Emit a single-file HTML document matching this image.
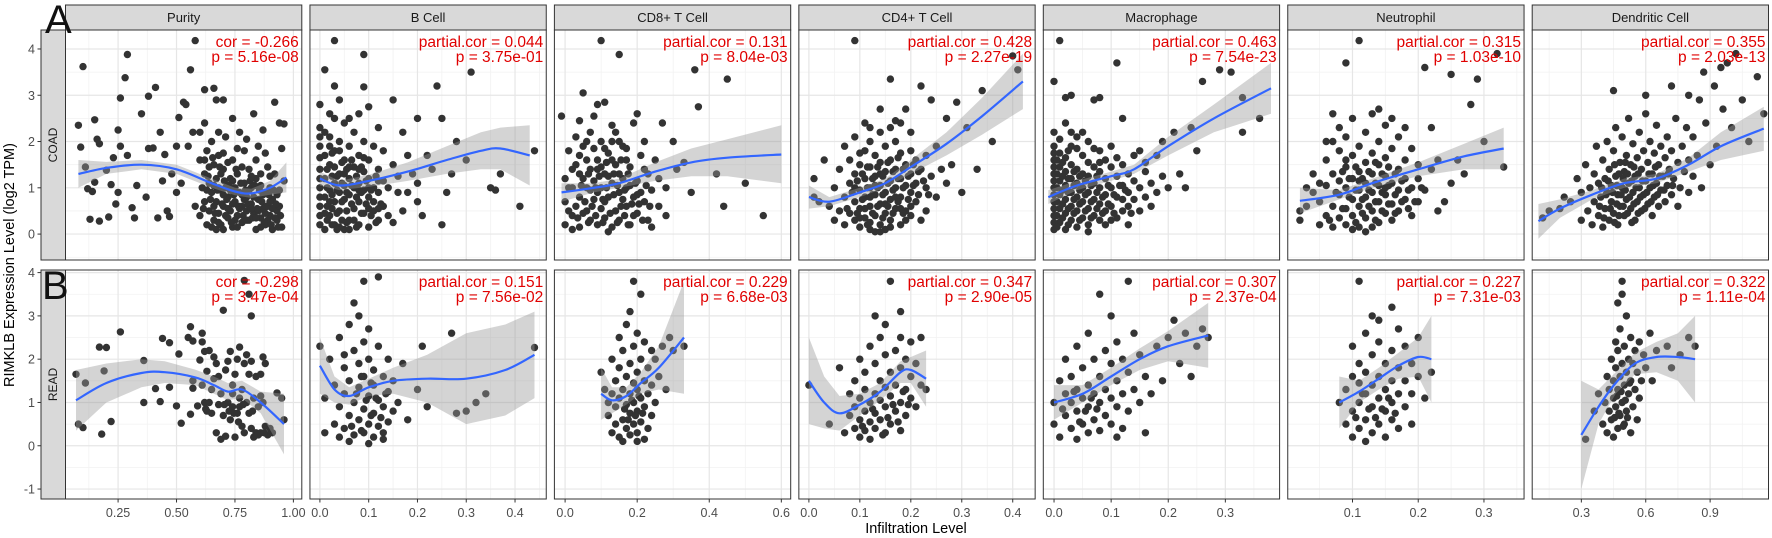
<!DOCTYPE html>
<html><head><meta charset="utf-8"><style>
html,body{margin:0;padding:0;background:#fff;}
svg{display:block;font-family:"Liberation Sans",sans-serif;}
</style></head><body>
<svg id="chart" width="1772" height="538" viewBox="0 0 1772 538" xmlns="http://www.w3.org/2000/svg"></svg>
<script>
// ---------- data ----------
const cellTypes=["Purity","B Cell","CD8+ T Cell","CD4+ T Cell","Macrophage","Neutrophil","Dendritic Cell"];
const cancers=["COAD","READ"];
const coadCorLabels=["cor = -0.266","partial.cor = 0.044","partial.cor = 0.131","partial.cor = 0.428","partial.cor = 0.463","partial.cor = 0.315","partial.cor = 0.355"];
const coadPLabels=["p = 5.16e-08","p = 3.75e-01","p = 8.04e-03","p = 2.27e-19","p = 7.54e-23","p = 1.03e-10","p = 2.03e-13"];
const readCorLabels=["cor = -0.298","partial.cor = 0.151","partial.cor = 0.229","partial.cor = 0.347","partial.cor = 0.307","partial.cor = 0.227","partial.cor = 0.322"];
const readPLabels=["p = 3.47e-04","p = 7.56e-02","p = 6.68e-03","p = 2.90e-05","p = 2.37e-04","p = 7.31e-03","p = 1.11e-04"];
const xTickLabels=[["0.25","0.50","0.75","1.00"],["0.0","0.1","0.2","0.3","0.4"],["0.0","0.2","0.4","0.6"],["0.0","0.1","0.2","0.3","0.4"],["0.0","0.1","0.2","0.3"],["0.1","0.2","0.3"],["0.3","0.6","0.9"]];
const xDomains=[[0.025,1.036],[-0.0204,0.464],[-0.0297,0.626],[-0.0197,0.444],[-0.0188,0.395],[0.0015,0.361],[0.071,1.172]];
const yTicksCoad=[0,1,2,3,4];
const yTicksRead=[-1,0,1,2,3,4];
const yDomainCoad=[-0.56,4.41];
const yDomainRead=[-1.23,4.06];

// points [x,y]
const coadPurity=[[0.08,2.35],[0.09,1.88],[0.1,3.62],[0.12,0.98],[0.11,1.45],[0.13,0.32],[0.14,0.92],[0.15,1.12],[0.15,2.47],[0.16,2.05],[0.17,0.28],[0.17,1.95],[0.2,1.38],[0.21,0.37],[0.22,1.07],[0.23,1.65],[0.24,0.65],[0.25,2.25],[0.25,0.9],[0.26,2.94],[0.26,1.9],[0.28,3.38],[0.29,3.88],[0.29,1.7],[0.31,0.57],[0.32,0.35],[0.33,1.05],[0.35,2.6],[0.37,0.8],[0.38,2.98],[0.38,1.85],[0.4,1.86],[0.41,3.17],[0.42,0.35],[0.43,2.2],[0.44,1.15],[0.45,1.72],[0.46,0.5],[0.47,0.38],[0.48,1.3],[0.5,1.9],[0.5,0.9],[0.51,2.52],[0.52,1.1],[0.53,2.85],[0.54,2.8],[0.55,1.9],[0.56,3.55],[0.57,2.2],[0.58,4.18],[0.58,0.6],[0.6,1.6],[0.62,3.12],[0.62,2.4],[0.66,3.15],[0.67,2.9],[0.67,0.1],[0.68,2.2],[0.7,2.9],[0.6,0.4],[0.61,1.0],[0.62,0.7],[0.62,1.3],[0.63,0.2],[0.63,1.8],[0.64,0.5],[0.64,1.1],[0.65,0.9],[0.65,2.0],[0.66,0.3],[0.66,1.5],[0.67,0.7],[0.67,1.2],[0.68,0.45],[0.68,1.7],[0.69,0.95],[0.69,0.2],[0.7,0.6],[0.7,1.4],[0.71,1.0],[0.71,2.1],[0.72,0.35],[0.72,0.8],[0.73,1.2],[0.73,0.5],[0.74,1.6],[0.74,0.15],[0.75,0.7],[0.75,1.0],[0.76,0.4],[0.76,1.3],[0.77,0.9],[0.77,2.2],[0.78,0.6],[0.78,0.25],[0.79,1.1],[0.79,1.8],[0.8,0.5],[0.8,0.8],[0.81,1.4],[0.81,0.3],[0.82,0.65],[0.82,1.0],[0.83,2.6],[0.83,0.45],[0.84,1.2],[0.84,0.1],[0.85,0.75],[0.85,1.9],[0.86,0.35],[0.86,1.05],[0.87,0.55],[0.87,2.25],[0.88,0.9],[0.88,0.2],[0.89,1.45],[0.89,0.6],[0.9,0.4],[0.9,1.0],[0.91,0.75],[0.91,0.1],[0.92,1.3],[0.92,2.85],[0.93,0.5],[0.93,0.3],[0.94,2.4],[0.95,0.15],[0.95,1.85],[0.96,1.15],[0.96,2.38],[0.74,2.5],[0.8,2.05],[0.68,1.0],[0.7,0.1],[0.65,0.15],[0.6,2.2],[0.62,1.6],[0.72,1.55],[0.76,1.85],[0.84,1.6],[0.88,1.75],[0.63,0.95],[0.66,0.6],[0.69,1.3],[0.71,0.4],[0.73,0.95],[0.75,0.3],[0.77,0.55],[0.79,0.75],[0.81,0.95],[0.83,0.8],[0.85,0.5],[0.87,0.85],[0.89,0.3],[0.91,0.55],[0.93,0.85],[0.94,0.6],[0.64,1.45],[0.7,1.75],[0.74,1.15],[0.78,1.45],[0.82,1.25],[0.86,1.3],[0.9,1.25]];
const coadPurityDense=[[0.615,0.55],[0.635,1.25],[0.645,0.75],[0.655,1.65],[0.665,0.45],[0.675,0.95],[0.685,1.45],[0.695,0.65],[0.705,1.15],[0.715,0.75],[0.725,1.05],[0.735,0.25],[0.745,0.85],[0.755,1.4],[0.765,0.6],[0.775,1.1],[0.785,0.4],[0.795,0.95],[0.805,0.65],[0.815,1.15],[0.825,0.35],[0.835,1.05],[0.845,0.55],[0.855,0.95],[0.865,0.7],[0.875,0.25],[0.885,0.6],[0.895,0.85],[0.905,0.2],[0.915,0.95],[0.925,0.65],[0.935,0.15],[0.945,0.4],[0.72,0.55],[0.76,0.15],[0.8,0.3],[0.84,0.35],[0.88,0.45],[0.92,0.35],[0.68,0.25],[0.86,0.15],[0.78,0.85],[0.82,0.55],[0.74,0.65],[0.7,0.85],[0.66,1.05],[0.9,0.7],[0.94,0.95]];
const coadBCell=[[0.03,4.18],[0.09,3.88],[0.01,3.55],[0.03,3.2],[0.09,3.18],[0.15,2.9],[0.24,3.2],[0.31,3.5],[0.2,2.5],[0.25,2.5],[0.17,2.2],[0.12,2.3],[0.28,2.0],[0.35,1.0],[0.37,1.3],[0.36,0.95],[0.41,0.6],[0.44,1.8],[0.3,1.6],[0.22,1.7],[0.19,1.3],[0.16,0.9],[0.2,0.7],[0.25,0.2],[0.14,0.4],[0.0,0.2],[0.0,0.6],[0.0,1.0],[0.0,1.4],[0.0,1.9],[0.0,2.3],[0.0,2.8],[0.01,0.1],[0.01,0.8],[0.01,1.2],[0.01,1.7],[0.02,0.4],[0.02,0.95],[0.02,1.5],[0.02,2.1],[0.03,0.2],[0.03,0.7],[0.03,1.1],[0.03,1.8],[0.03,2.5],[0.04,0.5],[0.04,0.9],[0.04,1.3],[0.04,2.0],[0.05,0.1],[0.05,0.75],[0.05,1.05],[0.05,1.6],[0.05,2.4],[0.06,0.3],[0.06,0.85],[0.06,1.2],[0.06,1.9],[0.07,0.55],[0.07,1.0],[0.07,1.45],[0.07,2.2],[0.08,0.2],[0.08,0.7],[0.08,1.1],[0.08,1.7],[0.08,2.6],[0.09,0.45],[0.09,0.95],[0.09,1.35],[0.09,2.0],[0.1,0.15],[0.1,0.8],[0.1,1.2],[0.1,1.6],[0.1,2.75],[0.11,0.5],[0.11,1.0],[0.11,1.9],[0.12,0.3],[0.12,0.9],[0.12,1.4],[0.13,0.6],[0.13,1.15],[0.13,1.8],[0.14,1.0],[0.15,0.25],[0.15,1.5],[0.16,1.25],[0.17,0.5],[0.18,1.7],[0.18,0.9],[0.2,1.1],[0.21,0.4],[0.23,1.4],[0.26,0.9],[0.27,1.3],[0.02,2.6],[0.04,2.9],[0.06,2.5],[0.01,0.45],[0.03,1.45],[0.05,1.3],[0.07,0.3],[0.09,1.65],[0.11,0.7],[0.06,0.1],[0.04,0.15],[0.02,0.7],[0.08,0.95],[0.1,1.0],[0.12,1.15]];
const coadBCellDense=[[0.015,0.3],[0.015,0.6],[0.015,1.0],[0.015,1.4],[0.025,0.2],[0.025,0.55],[0.025,0.85],[0.025,1.25],[0.025,1.75],[0.035,0.45],[0.035,0.95],[0.035,1.25],[0.035,0.1],[0.045,0.3],[0.045,0.7],[0.045,1.1],[0.045,1.55],[0.055,0.5],[0.055,0.9],[0.055,1.4],[0.055,0.25],[0.065,0.65],[0.065,1.05],[0.065,1.6],[0.075,0.15],[0.075,0.8],[0.075,1.25],[0.085,0.45],[0.085,0.9],[0.085,1.45],[0.095,0.65],[0.095,1.15],[0.105,0.4],[0.105,0.95],[0.115,0.25],[0.115,1.25],[0.125,0.65],[0.0,0.4],[0.0,0.8],[0.0,1.2],[0.0,1.65],[0.0,2.1],[0.01,2.2],[0.02,1.9],[0.04,1.8],[0.06,1.45],[0.08,1.4],[0.1,0.55],[0.12,0.55]];
const coadCD8=[[0.1,4.18],[0.15,3.88],[0.36,3.55],[0.45,3.35],[0.05,3.05],[0.09,2.8],[0.11,2.85],[0.37,2.75],[-0.01,2.55],[0.04,2.45],[0.08,2.55],[0.13,2.35],[0.2,2.6],[0.27,2.4],[0.22,2.0],[0.3,2.0],[0.33,1.55],[0.42,1.3],[0.5,1.1],[0.44,0.6],[0.35,0.9],[0.28,0.4],[0.55,0.4],[0.26,1.2],[0.31,1.4],[0.0,0.2],[0.0,0.7],[0.0,1.2],[0.01,1.8],[0.02,0.4],[0.02,1.0],[0.03,1.5],[0.03,2.1],[0.04,0.15],[0.04,0.8],[0.05,1.2],[0.05,1.9],[0.06,0.5],[0.06,1.0],[0.07,0.3],[0.07,1.4],[0.07,2.2],[0.08,0.75],[0.08,1.15],[0.09,0.2],[0.09,1.6],[0.1,0.55],[0.1,1.0],[0.1,2.0],[0.11,0.35],[0.11,1.3],[0.12,0.8],[0.12,1.75],[0.13,0.15],[0.13,1.1],[0.14,0.5],[0.14,1.5],[0.14,2.2],[0.15,0.9],[0.15,0.3],[0.16,1.2],[0.16,1.9],[0.17,0.6],[0.17,1.0],[0.18,0.2],[0.18,1.45],[0.19,0.8],[0.19,2.4],[0.2,0.45],[0.2,1.15],[0.21,1.7],[0.22,0.7],[0.23,1.3],[0.23,0.3],[0.24,0.95],[0.25,1.6],[0.26,0.6],[0.28,1.0],[0.03,0.6],[0.05,0.45],[0.06,1.6],[0.08,1.85],[0.09,0.9],[0.11,0.7],[0.12,0.05],[0.13,1.6],[0.15,1.3],[0.17,1.6],[0.19,0.4],[0.21,0.9],[0.22,1.4],[0.24,0.15],[0.16,0.75],[0.12,1.25],[0.1,1.45],[0.18,1.05],[0.2,0.85],[0.07,0.95],[0.04,1.3],[0.02,0.1]];
const coadCD8Dense=[[0.035,0.35],[0.045,1.05],[0.055,0.7],[0.065,1.3],[0.065,0.25],[0.075,0.6],[0.085,1.0],[0.085,0.4],[0.095,1.25],[0.105,0.75],[0.105,0.25],[0.115,1.0],[0.115,1.55],[0.125,0.45],[0.135,0.85],[0.135,1.3],[0.145,0.25],[0.145,1.05],[0.155,0.6],[0.155,1.6],[0.165,0.4],[0.165,0.95],[0.175,1.3],[0.175,0.2],[0.185,0.65],[0.195,1.1],[0.205,0.65],[0.215,0.3],[0.225,1.05],[0.235,0.6],[0.01,0.5],[0.01,1.0],[0.02,1.4],[0.04,1.7],[0.06,2.0],[0.09,1.4],[0.11,1.85],[0.13,2.0],[0.15,2.0],[0.17,1.85]];
const coadCD4=[[0.09,4.18],[0.4,3.85],[0.41,3.55],[0.34,3.1],[0.16,3.35],[0.22,3.2],[0.24,2.9],[0.29,2.85],[0.19,2.7],[0.14,2.7],[0.27,2.5],[0.31,2.3],[0.36,2.0],[0.2,2.2],[0.17,2.45],[0.25,1.9],[0.28,1.5],[0.33,1.4],[0.3,0.9],[0.23,0.5],[0.21,0.7],[0.01,1.2],[0.02,0.7],[0.01,0.8],[0.03,1.6],[0.04,0.6],[0.05,0.3],[0.05,1.0],[0.06,0.5],[0.06,1.4],[0.07,0.2],[0.07,0.8],[0.07,1.9],[0.08,0.45],[0.08,1.1],[0.08,1.6],[0.09,0.3],[0.09,0.7],[0.09,1.3],[0.09,2.1],[0.1,0.15],[0.1,0.55],[0.1,0.95],[0.1,1.5],[0.11,0.35],[0.11,0.8],[0.11,1.2],[0.11,1.8],[0.11,2.4],[0.12,0.1],[0.12,0.6],[0.12,1.0],[0.12,1.45],[0.12,2.0],[0.13,0.4],[0.13,0.85],[0.13,1.25],[0.13,1.7],[0.14,0.2],[0.14,0.65],[0.14,1.05],[0.14,1.55],[0.14,2.2],[0.15,0.45],[0.15,0.9],[0.15,1.35],[0.15,1.9],[0.16,0.3],[0.16,0.75],[0.16,1.15],[0.16,1.6],[0.17,0.55],[0.17,1.0],[0.17,1.4],[0.17,2.0],[0.18,0.2],[0.18,0.8],[0.18,1.2],[0.18,1.75],[0.19,0.5],[0.19,1.05],[0.19,1.5],[0.2,0.9],[0.2,1.3],[0.2,1.8],[0.21,1.1],[0.21,1.6],[0.22,1.4],[0.22,0.3],[0.23,1.0],[0.23,1.7],[0.24,1.25],[0.25,0.8],[0.26,1.4],[0.27,1.1],[0.1,1.75],[0.12,2.3],[0.13,0.05],[0.15,0.1],[0.16,2.3],[0.18,2.4],[0.2,0.6],[0.09,1.0],[0.11,0.55],[0.13,1.05],[0.15,0.65],[0.17,0.8],[0.19,0.3],[0.14,1.3],[0.12,0.8]];
const coadCD4Dense=[[0.075,0.55],[0.085,0.9],[0.095,0.45],[0.095,1.15],[0.105,0.75],[0.105,1.3],[0.115,0.2],[0.115,1.0],[0.115,1.45],[0.125,0.45],[0.125,0.85],[0.125,1.2],[0.135,0.6],[0.135,1.0],[0.135,1.45],[0.145,0.35],[0.145,0.85],[0.145,1.25],[0.155,0.6],[0.155,1.1],[0.155,1.55],[0.165,0.45],[0.165,0.95],[0.165,1.35],[0.175,0.7],[0.175,1.2],[0.175,1.65],[0.185,0.45],[0.185,1.0],[0.185,1.4],[0.195,0.75],[0.195,1.25],[0.205,1.05],[0.205,1.5],[0.215,0.85],[0.215,1.35],[0.225,1.15],[0.235,0.85],[0.1,0.35],[0.12,0.25],[0.14,0.05],[0.16,0.15],[0.18,0.55],[0.2,0.4]];
const coadMacro=[[0.01,4.18],[0.11,3.7],[0.0,3.3],[0.02,2.95],[0.03,3.0],[0.07,2.9],[0.08,2.95],[0.12,2.5],[0.21,2.2],[0.24,2.3],[0.26,3.3],[0.29,3.55],[0.31,3.5],[0.33,2.95],[0.33,2.2],[0.36,2.5],[0.25,1.8],[0.18,1.7],[0.22,1.3],[0.2,1.0],[0.23,1.0],[0.17,0.6],[0.13,0.6],[0.19,2.0],[0.15,1.8],[0.0,0.1],[0.0,0.4],[0.0,0.7],[0.0,1.0],[0.0,1.3],[0.0,1.6],[0.0,1.9],[0.0,2.2],[0.01,0.25],[0.01,0.55],[0.01,0.85],[0.01,1.15],[0.01,1.45],[0.01,1.75],[0.01,2.05],[0.02,0.1],[0.02,0.45],[0.02,0.75],[0.02,1.05],[0.02,1.35],[0.02,1.65],[0.02,2.4],[0.03,0.3],[0.03,0.6],[0.03,0.9],[0.03,1.2],[0.03,1.5],[0.03,1.9],[0.04,0.15],[0.04,0.5],[0.04,0.8],[0.04,1.1],[0.04,1.4],[0.04,2.1],[0.05,0.35],[0.05,0.7],[0.05,1.0],[0.05,1.3],[0.05,1.7],[0.06,0.2],[0.06,0.55],[0.06,0.9],[0.06,1.25],[0.06,1.55],[0.06,2.0],[0.07,0.4],[0.07,0.75],[0.07,1.1],[0.07,1.45],[0.08,0.3],[0.08,0.65],[0.08,1.0],[0.08,1.35],[0.08,1.8],[0.09,0.5],[0.09,0.85],[0.09,1.2],[0.09,1.6],[0.1,0.6],[0.1,1.0],[0.1,1.45],[0.1,1.9],[0.11,0.8],[0.11,1.25],[0.11,1.65],[0.12,0.5],[0.12,1.05],[0.12,1.5],[0.13,0.9],[0.13,1.3],[0.14,0.75],[0.14,1.15],[0.14,1.7],[0.15,1.0],[0.15,0.5],[0.16,1.35],[0.16,0.8],[0.17,1.1],[0.18,0.9],[0.19,1.25],[0.05,2.2],[0.07,1.85],[0.03,2.2],[0.09,0.2],[0.11,0.35],[0.13,0.2],[0.06,0.05],[0.04,1.85],[0.08,1.55],[0.1,0.3],[0.12,0.75],[0.16,1.55]];
const coadMacroDense=[[0.0,0.25],[0.0,0.55],[0.0,0.85],[0.0,1.15],[0.0,1.45],[0.0,1.75],[0.005,0.15],[0.005,0.4],[0.005,0.7],[0.005,1.0],[0.005,1.3],[0.005,1.6],[0.015,0.35],[0.015,0.65],[0.015,0.95],[0.015,1.25],[0.015,1.55],[0.025,0.2],[0.025,0.55],[0.025,0.9],[0.025,1.2],[0.025,1.8],[0.035,0.45],[0.035,0.75],[0.035,1.05],[0.035,1.35],[0.045,0.3],[0.045,0.65],[0.045,0.95],[0.045,1.25],[0.055,0.5],[0.055,0.85],[0.055,1.15],[0.065,0.35],[0.065,0.7],[0.065,1.05],[0.075,0.55],[0.075,0.9],[0.075,1.25],[0.085,0.45],[0.085,0.8],[0.095,0.65],[0.095,1.05],[0.105,0.45],[0.105,0.85],[0.115,1.05],[0.125,0.95],[0.135,0.45]];
const coadNeut=[[0.11,4.18],[0.09,3.7],[0.21,3.6],[0.25,3.45],[0.32,3.9],[0.29,3.35],[0.28,2.8],[0.3,2.0],[0.33,1.45],[0.27,1.3],[0.24,0.7],[0.22,2.3],[0.2,1.2],[0.23,1.6],[0.02,0.5],[0.02,0.3],[0.03,1.0],[0.04,1.3],[0.05,0.2],[0.05,0.7],[0.06,0.4],[0.06,1.05],[0.06,1.6],[0.07,0.15],[0.07,0.6],[0.07,1.3],[0.07,2.0],[0.08,0.35],[0.08,0.85],[0.08,1.15],[0.08,1.8],[0.08,2.3],[0.09,0.2],[0.09,0.55],[0.09,1.0],[0.09,1.45],[0.09,2.1],[0.1,0.4],[0.1,0.75],[0.1,1.2],[0.1,1.7],[0.1,2.5],[0.11,0.15],[0.11,0.6],[0.11,0.95],[0.11,1.35],[0.11,1.9],[0.12,0.35],[0.12,0.8],[0.12,1.1],[0.12,1.55],[0.12,2.2],[0.13,0.5],[0.13,0.9],[0.13,1.3],[0.13,1.75],[0.13,2.6],[0.14,0.25],[0.14,0.7],[0.14,1.05],[0.14,1.5],[0.14,2.0],[0.15,0.45],[0.15,0.85],[0.15,1.25],[0.15,1.65],[0.15,2.35],[0.16,0.3],[0.16,0.65],[0.16,1.1],[0.16,1.85],[0.17,0.5],[0.17,0.95],[0.17,1.4],[0.17,2.1],[0.18,0.75],[0.18,1.2],[0.18,1.6],[0.19,0.4],[0.19,1.0],[0.19,1.85],[0.2,0.7],[0.2,1.5],[0.21,0.95],[0.22,1.4],[0.23,0.5],[0.25,1.1],[0.26,1.6],[0.1,0.1],[0.12,0.05],[0.14,2.7],[0.16,2.5],[0.18,2.3],[0.06,2.0],[0.07,2.6],[0.09,1.6],[0.11,1.15],[0.13,0.15],[0.15,1.0]];
const coadNeutDense=[[0.065,0.3],[0.075,0.9],[0.085,0.55],[0.085,1.35],[0.095,0.8],[0.095,1.2],[0.105,0.25],[0.105,0.95],[0.105,1.45],[0.115,0.45],[0.115,0.75],[0.115,1.2],[0.125,0.6],[0.125,0.95],[0.125,1.35],[0.135,0.3],[0.135,0.7],[0.135,1.1],[0.135,1.55],[0.145,0.5],[0.145,0.9],[0.145,1.3],[0.155,0.65],[0.155,1.05],[0.155,1.45],[0.165,0.45],[0.165,0.85],[0.165,1.3],[0.175,0.7],[0.175,1.15],[0.185,0.55],[0.185,0.95],[0.195,0.7],[0.205,1.0],[0.03,0.6],[0.04,0.9],[0.05,1.1]];
const coadDC=[[0.12,0.35],[0.15,0.5],[0.2,0.55],[0.22,0.8],[0.25,0.7],[0.28,1.2],[0.3,0.3],[0.3,0.9],[0.32,1.5],[0.33,0.5],[0.34,1.0],[0.35,0.2],[0.36,0.7],[0.36,1.3],[0.37,1.9],[0.38,0.4],[0.38,1.1],[0.39,0.8],[0.4,0.15],[0.4,1.6],[0.41,0.55],[0.41,1.2],[0.42,0.9],[0.42,2.0],[0.43,0.3],[0.43,1.4],[0.44,0.7],[0.44,1.05],[0.45,1.8],[0.45,0.45],[0.46,1.25],[0.46,2.3],[0.47,0.85],[0.47,0.2],[0.48,1.55],[0.48,0.6],[0.49,1.0],[0.49,2.1],[0.5,0.4],[0.5,1.35],[0.51,0.75],[0.51,1.7],[0.52,1.1],[0.52,2.5],[0.53,0.55],[0.53,1.5],[0.54,0.9],[0.54,1.95],[0.55,0.3],[0.55,1.25],[0.56,0.7],[0.56,1.65],[0.57,1.0],[0.57,2.2],[0.58,0.5],[0.58,1.4],[0.59,0.85],[0.59,1.8],[0.6,1.15],[0.6,2.6],[0.61,0.65],[0.61,1.55],[0.62,1.0],[0.62,2.0],[0.63,0.4],[0.63,1.3],[0.64,0.8],[0.64,1.75],[0.65,1.1],[0.65,2.35],[0.66,0.6],[0.66,1.5],[0.67,0.95],[0.67,1.9],[0.68,1.25],[0.69,0.7],[0.69,1.65],[0.7,1.05],[0.7,2.1],[0.71,1.4],[0.72,0.85],[0.72,1.8],[0.73,1.2],[0.74,2.5],[0.75,1.55],[0.75,0.6],[0.76,1.0],[0.77,1.9],[0.78,1.35],[0.79,2.3],[0.8,0.9],[0.8,1.6],[0.82,1.25],[0.82,2.1],[0.84,1.7],[0.85,2.9],[0.86,1.0],[0.88,2.4],[0.9,1.5],[0.92,3.2],[0.93,1.9],[0.95,3.6],[0.96,2.7],[0.98,3.7],[1.0,2.3],[1.02,3.9],[1.05,2.9],[1.08,2.0],[1.12,3.4],[1.15,2.6],[0.87,3.5],[0.8,3.0],[0.72,3.2],[0.6,3.0],[0.45,3.1]];
const coadDCDense=[[0.385,0.6],[0.395,1.0],[0.405,0.35],[0.415,0.85],[0.425,1.15],[0.435,0.55],[0.445,0.9],[0.455,0.25],[0.455,1.5],[0.465,0.65],[0.465,1.05],[0.475,0.4],[0.475,1.3],[0.485,0.85],[0.495,0.6],[0.495,1.2],[0.505,0.95],[0.505,1.55],[0.515,0.45],[0.515,1.3],[0.525,0.8],[0.535,1.15],[0.535,0.25],[0.545,0.65],[0.545,1.45],[0.555,1.0],[0.565,0.45],[0.565,1.3],[0.575,0.8],[0.585,1.15],[0.595,0.55],[0.605,0.9],[0.615,1.3],[0.625,0.7],[0.635,1.05],[0.645,1.45],[0.655,0.85],[0.665,1.25],[0.685,0.95],[0.705,1.3],[0.725,1.05]];
const readPurity=[[0.07,1.65],[0.08,0.5],[0.1,0.42],[0.11,1.45],[0.17,2.28],[0.18,0.27],[0.19,1.73],[0.2,2.27],[0.22,0.56],[0.26,2.63],[0.36,1.97],[0.36,1.0],[0.41,1.32],[0.43,1.02],[0.44,2.48],[0.47,1.35],[0.47,2.38],[0.5,0.92],[0.51,2.12],[0.52,0.52],[0.55,2.5],[0.56,2.75],[0.56,0.73],[0.57,1.5],[0.57,2.42],[0.57,1.33],[0.59,0.92],[0.6,1.98],[0.61,2.6],[0.61,2.4],[0.61,1.4],[0.62,2.18],[0.62,1.0],[0.63,0.8],[0.63,1.72],[0.64,2.2],[0.65,1.3],[0.65,0.75],[0.66,2.05],[0.66,1.55],[0.67,0.3],[0.67,1.9],[0.68,0.95],[0.69,1.2],[0.69,0.15],[0.7,3.13],[0.7,0.7],[0.71,1.75],[0.71,0.22],[0.72,1.0],[0.72,1.95],[0.73,2.18],[0.73,0.6],[0.74,1.4],[0.74,0.9],[0.75,0.2],[0.75,1.65],[0.76,2.0],[0.76,0.75],[0.77,1.1],[0.77,2.28],[0.78,0.45],[0.78,1.3],[0.79,3.82],[0.79,0.3],[0.79,1.9],[0.8,2.1],[0.8,1.0],[0.81,0.75],[0.81,1.65],[0.82,3.0],[0.82,0.4],[0.82,1.95],[0.83,0.2],[0.83,1.1],[0.84,0.3],[0.84,1.6],[0.85,0.25],[0.85,0.9],[0.86,1.65],[0.86,0.3],[0.87,2.05],[0.87,1.0],[0.88,0.45],[0.88,1.9],[0.89,0.25],[0.9,0.4],[0.91,0.3],[0.93,1.22],[0.95,1.1],[0.96,0.6],[0.81,3.5],[0.68,1.6],[0.64,1.0],[0.86,1.15],[0.77,0.9],[0.74,1.2],[0.625,0.85],[0.705,0.95],[0.745,0.75],[0.785,0.95],[0.825,0.8],[0.845,0.25],[0.875,0.3],[0.765,0.55],[0.725,0.8]];
const readBCell=[[0.0,2.3],[0.01,1.1],[0.01,0.3],[0.02,2.0],[0.03,0.5],[0.03,1.4],[0.04,0.2],[0.04,0.9],[0.04,2.5],[0.05,1.2],[0.05,0.4],[0.05,1.8],[0.06,0.7],[0.06,1.5],[0.06,2.8],[0.07,0.25],[0.07,1.0],[0.07,2.2],[0.08,0.6],[0.08,1.35],[0.08,1.9],[0.08,3.0],[0.09,0.3],[0.09,0.85],[0.09,1.6],[0.09,2.4],[0.1,0.5],[0.1,1.15],[0.1,2.0],[0.1,2.7],[0.11,0.2],[0.11,0.75],[0.11,1.4],[0.11,1.75],[0.12,0.45],[0.12,1.05],[0.12,2.3],[0.13,0.3],[0.13,0.9],[0.13,1.6],[0.14,0.55],[0.14,1.25],[0.14,2.0],[0.15,0.8],[0.15,1.5],[0.09,3.8],[0.12,3.9],[0.07,3.3],[0.16,1.0],[0.17,1.9],[0.18,0.6],[0.2,1.3],[0.21,2.3],[0.22,0.9],[0.27,2.6],[0.3,0.8],[0.32,1.0],[0.34,1.2],[0.28,0.75],[0.44,2.27],[0.06,0.1],[0.1,0.05],[0.13,0.15],[0.05,2.1],[0.065,0.45],[0.075,1.2],[0.085,0.35],[0.095,1.05],[0.105,0.7],[0.115,1.1],[0.125,0.65],[0.135,1.2],[0.085,1.6],[0.105,1.45]];
const readCD8=[[0.1,1.7],[0.11,1.3],[0.12,0.7],[0.12,1.0],[0.13,0.3],[0.13,1.2],[0.13,2.0],[0.14,0.5],[0.14,0.9],[0.14,1.5],[0.15,0.2],[0.15,1.1],[0.15,1.8],[0.15,2.5],[0.16,0.6],[0.16,1.3],[0.16,2.2],[0.17,0.4],[0.17,0.95],[0.17,1.6],[0.17,2.8],[0.18,0.25],[0.18,0.75],[0.18,1.2],[0.18,1.9],[0.18,3.1],[0.19,0.5],[0.19,1.0],[0.19,1.45],[0.19,2.3],[0.19,3.8],[0.2,0.3],[0.2,0.8],[0.2,1.3],[0.2,1.7],[0.2,2.6],[0.21,0.55],[0.21,1.1],[0.21,2.0],[0.21,3.5],[0.22,0.9],[0.22,1.5],[0.22,2.4],[0.23,0.4],[0.23,1.2],[0.23,1.8],[0.24,0.7],[0.24,1.4],[0.24,2.2],[0.25,1.0],[0.25,2.0],[0.26,1.6],[0.27,2.3],[0.28,1.3],[0.29,2.5],[0.3,2.2],[0.33,2.3],[0.2,0.1],[0.16,0.1],[0.22,0.15],[0.175,0.6],[0.185,1.05],[0.195,0.7],[0.205,1.15],[0.165,0.85],[0.215,0.75]];
const readCD4=[[0.0,1.4],[0.04,0.5],[0.06,1.8],[0.07,0.3],[0.08,0.7],[0.08,1.2],[0.09,0.4],[0.09,0.9],[0.09,1.5],[0.1,0.2],[0.1,0.6],[0.1,1.1],[0.1,2.0],[0.11,0.35],[0.11,0.8],[0.11,1.3],[0.11,1.7],[0.12,0.15],[0.12,0.55],[0.12,1.0],[0.12,2.3],[0.13,0.4],[0.13,0.75],[0.13,1.2],[0.13,1.9],[0.14,0.6],[0.14,1.05],[0.14,1.5],[0.14,2.5],[0.15,0.3],[0.15,0.9],[0.15,1.35],[0.15,2.1],[0.16,0.5],[0.16,1.15],[0.16,1.7],[0.16,3.8],[0.17,0.8],[0.17,1.4],[0.17,2.2],[0.18,0.35],[0.18,1.0],[0.18,1.8],[0.18,2.5],[0.19,0.7],[0.19,1.3],[0.19,2.0],[0.2,1.1],[0.2,1.6],[0.2,2.4],[0.21,0.9],[0.21,1.9],[0.22,1.4],[0.22,2.5],[0.23,1.3],[0.13,3.0],[0.15,2.8],[0.18,3.1],[0.105,0.45],[0.125,0.85],[0.145,0.25],[0.155,0.65],[0.165,0.95],[0.175,0.55],[0.185,1.25],[0.195,0.95]];
const readMacro=[[0.0,0.5],[0.0,1.0],[0.01,1.5],[0.01,0.2],[0.02,1.2],[0.02,0.7],[0.02,2.0],[0.03,0.4],[0.03,1.0],[0.03,1.6],[0.04,0.15],[0.04,0.8],[0.04,1.3],[0.04,2.3],[0.05,0.5],[0.05,1.1],[0.05,1.8],[0.06,0.3],[0.06,0.9],[0.06,1.4],[0.06,2.6],[0.07,0.6],[0.07,1.2],[0.07,2.0],[0.08,0.35],[0.08,1.0],[0.08,1.6],[0.08,3.5],[0.09,0.7],[0.09,1.3],[0.09,2.2],[0.1,0.5],[0.1,1.1],[0.1,1.9],[0.1,3.0],[0.11,0.9],[0.11,1.5],[0.11,2.4],[0.12,1.2],[0.12,0.4],[0.12,2.0],[0.13,0.8],[0.13,1.7],[0.14,1.3],[0.14,2.6],[0.15,1.0],[0.15,2.1],[0.16,1.6],[0.16,0.3],[0.17,1.2],[0.18,2.3],[0.19,1.5],[0.2,2.5],[0.21,2.9],[0.22,1.9],[0.23,2.6],[0.24,1.6],[0.25,2.3],[0.26,2.7],[0.27,2.5],[0.13,3.8],[0.11,0.2],[0.015,0.85],[0.035,1.25],[0.045,0.55],[0.055,0.8],[0.065,1.1],[0.075,0.85]];
const readNeut=[[0.08,1.0],[0.09,1.3],[0.09,0.5],[0.1,0.2],[0.1,0.8],[0.1,1.6],[0.1,2.3],[0.11,0.4],[0.11,1.0],[0.11,1.45],[0.11,1.9],[0.11,3.8],[0.12,0.6],[0.12,1.2],[0.12,1.7],[0.12,2.6],[0.12,0.1],[0.13,0.3],[0.13,0.9],[0.13,1.4],[0.13,2.1],[0.13,3.0],[0.14,0.5],[0.14,1.1],[0.14,1.6],[0.14,2.4],[0.15,0.2],[0.15,0.8],[0.15,1.3],[0.15,1.9],[0.16,0.6],[0.16,1.0],[0.16,1.5],[0.16,2.2],[0.17,0.4],[0.17,1.2],[0.17,1.8],[0.17,2.7],[0.18,0.9],[0.18,1.5],[0.18,2.3],[0.19,0.5],[0.19,1.2],[0.19,1.9],[0.2,1.6],[0.2,2.5],[0.21,1.1],[0.22,1.7],[0.14,2.9],[0.16,3.2],[0.105,0.65],[0.115,1.2],[0.125,0.85],[0.135,0.65],[0.145,0.85],[0.155,1.1],[0.165,0.75]];
const readDC=[[0.32,0.15],[0.36,0.8],[0.38,1.2],[0.4,0.5],[0.41,1.0],[0.42,1.6],[0.42,0.3],[0.43,0.8],[0.43,1.3],[0.44,2.0],[0.44,0.6],[0.45,1.1],[0.45,1.5],[0.45,0.2],[0.46,0.9],[0.46,1.8],[0.46,2.4],[0.47,0.4],[0.47,1.3],[0.47,2.2],[0.48,0.7],[0.48,1.6],[0.48,2.7],[0.49,1.0],[0.49,1.9],[0.49,3.5],[0.5,0.5],[0.5,1.4],[0.5,2.3],[0.51,0.8],[0.51,1.7],[0.51,3.0],[0.52,1.2],[0.52,2.0],[0.53,0.3],[0.53,1.5],[0.53,2.5],[0.54,0.9],[0.54,1.9],[0.55,1.3],[0.55,2.2],[0.56,0.6],[0.56,1.7],[0.57,1.1],[0.57,2.4],[0.58,1.5],[0.59,2.1],[0.6,1.8],[0.62,2.6],[0.63,1.5],[0.65,2.2],[0.7,2.3],[0.72,1.8],[0.76,2.1],[0.8,2.5],[0.83,2.3],[0.49,3.8],[0.47,3.3],[0.455,0.65],[0.465,1.15],[0.475,0.75],[0.485,1.25],[0.495,0.45],[0.505,1.05],[0.515,0.65],[0.525,1.45]];
const coadPoints=[coadPurity.concat(coadPurityDense),coadBCell.concat(coadBCellDense),coadCD8.concat(coadCD8Dense),coadCD4.concat(coadCD4Dense),coadMacro.concat(coadMacroDense),coadNeut.concat(coadNeutDense),coadDC.concat(coadDCDense)];
const readPoints=[readPurity,readBCell,readCD8,readCD4,readMacro,readNeut,readDC];

// loess fits [x, fit, lower, upper]
const coadFits=[
 [[0.08,1.3,1.0,1.6],[0.2,1.43,1.3,1.56],[0.35,1.5,1.4,1.6],[0.5,1.4,1.3,1.5],[0.65,1.1,1.0,1.2],[0.75,0.92,0.84,1.0],[0.82,0.88,0.78,0.98],[0.9,1.0,0.85,1.15],[0.97,1.22,0.9,1.55]],
 [[0.0,1.2,1.05,1.35],[0.04,1.05,0.95,1.15],[0.1,1.15,1.02,1.28],[0.18,1.35,1.15,1.55],[0.26,1.6,1.3,1.9],[0.33,1.8,1.4,2.2],[0.37,1.85,1.4,2.3],[0.43,1.7,1.05,2.35]],
 [[-0.01,0.9,0.7,1.1],[0.08,1.0,0.9,1.1],[0.15,1.1,1.0,1.2],[0.25,1.35,1.15,1.55],[0.35,1.55,1.25,1.85],[0.45,1.65,1.25,2.05],[0.6,1.72,1.1,2.35]],
 [[0.0,0.8,0.55,1.05],[0.04,0.7,0.6,0.8],[0.1,0.9,0.8,1.0],[0.15,1.1,1.0,1.2],[0.2,1.45,1.3,1.6],[0.27,1.95,1.7,2.2],[0.34,2.55,2.15,2.95],[0.42,3.3,2.7,3.9]],
 [[-0.01,0.8,0.65,0.95],[0.04,1.05,0.95,1.15],[0.1,1.25,1.15,1.35],[0.14,1.4,1.3,1.5],[0.2,1.9,1.7,2.1],[0.28,2.5,2.2,2.8],[0.38,3.15,2.6,3.7]],
 [[0.02,0.72,0.45,1.0],[0.08,0.85,0.75,0.95],[0.13,1.1,1.0,1.2],[0.2,1.4,1.25,1.55],[0.27,1.68,1.4,1.95],[0.33,1.85,1.4,2.3]],
 [[0.1,0.28,-0.1,0.65],[0.2,0.55,0.35,0.75],[0.35,0.85,0.75,0.95],[0.5,1.1,1.0,1.2],[0.65,1.2,1.1,1.3],[0.8,1.5,1.35,1.65],[0.95,1.9,1.6,2.2],[1.15,2.28,1.8,2.75]]
];
const readFits=[
 [[0.07,1.05,0.35,1.75],[0.2,1.45,1.0,1.9],[0.35,1.68,1.35,2.0],[0.45,1.7,1.45,1.95],[0.58,1.58,1.4,1.76],[0.66,1.4,1.2,1.6],[0.72,1.25,1.05,1.45],[0.78,1.3,1.1,1.5],[0.86,1.0,0.75,1.25],[0.96,0.5,-0.2,1.2]],
 [[0.0,1.85,1.2,2.5],[0.03,1.3,1.0,1.6],[0.06,1.15,0.95,1.35],[0.1,1.35,1.15,1.55],[0.15,1.5,1.2,1.8],[0.22,1.55,1.0,2.1],[0.3,1.55,0.5,2.6],[0.38,1.75,0.7,2.8],[0.44,2.1,1.1,3.1]],
 [[0.1,1.2,0.6,1.8],[0.13,1.05,0.75,1.35],[0.17,1.15,0.95,1.35],[0.21,1.45,1.2,1.7],[0.26,1.8,1.3,2.3],[0.33,2.5,1.2,3.8]],
 [[0.0,1.5,0.5,2.5],[0.03,1.0,0.4,1.6],[0.06,0.75,0.35,1.15],[0.1,0.95,0.7,1.2],[0.14,1.25,1.05,1.45],[0.18,1.7,1.45,1.95],[0.2,1.75,1.45,2.05],[0.23,1.55,0.9,2.2]],
 [[0.0,1.0,0.6,1.4],[0.05,1.2,1.0,1.4],[0.1,1.6,1.4,1.8],[0.15,2.0,1.75,2.25],[0.2,2.3,1.95,2.65],[0.27,2.55,1.8,3.3]],
 [[0.08,1.0,0.4,1.6],[0.11,1.25,1.0,1.5],[0.14,1.55,1.3,1.8],[0.17,1.85,1.55,2.15],[0.2,2.05,1.6,2.5],[0.22,2.0,1.0,3.0]],
 [[0.3,0.25,-1.0,1.5],[0.38,0.9,0.5,1.3],[0.46,1.45,1.2,1.7],[0.55,1.9,1.65,2.15],[0.65,2.05,1.7,2.4],[0.75,2.05,1.5,2.6],[0.83,2.0,1.0,3.0]]
];
const xTickValues=[[0.25,0.5,0.75,1.0],[0,0.1,0.2,0.3,0.4],[0,0.2,0.4,0.6],[0,0.1,0.2,0.3,0.4],[0,0.1,0.2,0.3],[0.1,0.2,0.3],[0.3,0.6,0.9]];

// ---------- layout ----------
const NS="http://www.w3.org/2000/svg";
const svg=document.getElementById('chart');
const panelLeft0=65.5, panelStep=244.45, panelW=236.3;
const rows=[{top:30,bottom:260,dom:yDomainCoad,ticks:yTicksCoad,pts:coadPoints,fits:coadFits,cor:coadCorLabels,p:coadPLabels,name:'coad'},
            {top:270,bottom:499,dom:yDomainRead,ticks:yTicksRead,pts:readPoints,fits:readFits,cor:readCorLabels,p:readPLabels,name:'read'}];
function mk(tag,attrs,parent){const e=document.createElementNS(NS,tag);for(const k in attrs)e.setAttribute(k,attrs[k]);(parent||svg).appendChild(e);return e;}
function xScale(i,v){const d=xDomains[i];const l=panelLeft0+panelStep*i;return l+(v-d[0])/(d[1]-d[0])*panelW;}
function yScale(r,v){const row=rows[r];return row.bottom-(v-row.dom[0])/(row.dom[1]-row.dom[0])*(row.bottom-row.top);}

const defs=mk('defs',{});
cellTypes.forEach((c,i)=>{
  const l=panelLeft0+panelStep*i;
  const g=mk('g',{});
  
  
  mk('rect',{x:l,y:5,width:panelW,height:25,fill:'#d9d9d9',stroke:'#333','stroke-width':1},g);
  const t=mk('text',{x:l+panelW/2,y:22,'text-anchor':'middle','font-size':13,fill:'#1a1a1a'},g);t.textContent=c;
});
rows.forEach((row,r)=>{
  const sg=mk('g',{});
  
  
  mk('rect',{x:41,y:row.top,width:24.5,height:row.bottom-row.top,fill:'#d9d9d9',stroke:'#333','stroke-width':1},sg);
  const cy=(row.top+row.bottom)/2;
  const st=mk('text',{x:57,y:cy,'text-anchor':'middle','font-size':12,fill:'#1a1a1a',transform:`rotate(-90 57 ${cy})`},sg);st.textContent=cancers[r];
  row.ticks.forEach(v=>{
    const y=yScale(r,v);
    const tl=mk('line',{x1:37.5,x2:41,y1:y,y2:y,stroke:'#333','stroke-width':1});
    
    
    const tt=mk('text',{x:35,y:y+4.5,'text-anchor':'end','font-size':12.5,fill:'#4d4d4d'});tt.textContent=String(v);
    
    
  });
  cellTypes.forEach((c,i)=>{
    const l=panelLeft0+panelStep*i;
    const pg=mk('g',{});
    
    
    mk('rect',{x:l,y:row.top,width:panelW,height:row.bottom-row.top,fill:'#fff'},pg);
    const cid='clip'+r+'_'+i;
    const cp=mk('clipPath',{id:cid},defs);mk('rect',{x:l,y:row.top,width:panelW,height:row.bottom-row.top},cp);
    const inner=mk('g',{'clip-path':`url(#${cid})`},pg);
    const yt=row.ticks;
    for(let k=0;k<yt.length;k++){const v=yt[k]+0.5;if(v<row.dom[1])mk('line',{x1:l,x2:l+panelW,y1:yScale(r,v),y2:yScale(r,v),stroke:'#f2f2f2','stroke-width':0.8},inner);}
    if(yt[0]-0.5>row.dom[0])mk('line',{x1:l,x2:l+panelW,y1:yScale(r,yt[0]-0.5),y2:yScale(r,yt[0]-0.5),stroke:'#f2f2f2','stroke-width':0.8},inner);
    const xt=xTickValues[i];const stp=xt[1]-xt[0];
    const minors=[xt[0]-stp/2].concat(xt.map(v=>v+stp/2));
    minors.forEach(v=>{if(v>xDomains[i][0]&&v<xDomains[i][1])mk('line',{x1:xScale(i,v),x2:xScale(i,v),y1:row.top,y2:row.bottom,stroke:'#f2f2f2','stroke-width':0.8},inner);});
    yt.forEach(v=>mk('line',{x1:l,x2:l+panelW,y1:yScale(r,v),y2:yScale(r,v),stroke:'#e6e6e6','stroke-width':1.2},inner));
    xt.forEach(v=>mk('line',{x1:xScale(i,v),x2:xScale(i,v),y1:row.top,y2:row.bottom,stroke:'#e6e6e6','stroke-width':1.2},inner));
    row.pts[i].forEach(p=>{
      const c=mk('circle',{cx:xScale(i,p[0]).toFixed(1),cy:yScale(r,p[1]).toFixed(1),r:3.7,fill:'#333'},inner);
      
      
    });
    const f=row.fits[i];
    let d='M'+f.map(q=>xScale(i,q[0]).toFixed(1)+','+yScale(r,q[3]).toFixed(1)).join(' L');
    d+=' L'+f.slice().reverse().map(q=>xScale(i,q[0]).toFixed(1)+','+yScale(r,q[2]).toFixed(1)).join(' L')+'Z';
    const band=mk('path',{d:d,fill:'#999','fill-opacity':0.42,stroke:'none'},inner);
    
    
    const pts=f.map(q=>[xScale(i,q[0]),yScale(r,q[1])]);
    let ld='M'+pts[0][0].toFixed(1)+','+pts[0][1].toFixed(1);
    for(let k=1;k<pts.length;k++){const p0=pts[k-2]||pts[k-1],p1=pts[k-1],p2=pts[k],p3=pts[k+1]||pts[k];
      const c1x=p1[0]+(p2[0]-p0[0])/6,c1y=p1[1]+(p2[1]-p0[1])/6,c2x=p2[0]-(p3[0]-p1[0])/6,c2y=p2[1]-(p3[1]-p1[1])/6;
      ld+=` C${c1x.toFixed(1)},${c1y.toFixed(1)} ${c2x.toFixed(1)},${c2y.toFixed(1)} ${p2[0].toFixed(1)},${p2[1].toFixed(1)}`;}
    const line=mk('path',{d:ld,fill:'none',stroke:'#3366ff','stroke-width':2.2},inner);
    
    
    const a1=mk('text',{x:l+panelW-3,y:row.top+17,'text-anchor':'end','font-size':15.5,fill:'#e00000'},pg);a1.textContent=row.cor[i];
    
    
    const a2=mk('text',{x:l+panelW-3,y:row.top+32,'text-anchor':'end','font-size':15.5,fill:'#e00000'},pg);a2.textContent=row.p[i];
    
    
    mk('rect',{x:l,y:row.top,width:panelW,height:row.bottom-row.top,fill:'none',stroke:'#333','stroke-width':1},pg);
  });
});
cellTypes.forEach((c,i)=>{
  xTickValues[i].forEach((v,k)=>{
    const x=xScale(i,v);
    const tl=mk('line',{x1:x,x2:x,y1:499,y2:502.5,stroke:'#333','stroke-width':1});
    
    
    const tt=mk('text',{x:x,y:517,'text-anchor':'middle','font-size':12.5,fill:'#4d4d4d'});tt.textContent=xTickLabels[i][k];
    
    
  });
});
const xt=mk('text',{x:916,y:533,'text-anchor':'middle','font-size':14.5,fill:'#000'});xt.textContent='Infiltration Level';


const yt=mk('text',{x:14,y:265,'text-anchor':'middle','font-size':14.5,fill:'#000',transform:'rotate(-90 14 265)'});yt.textContent='RIMKLB Expression Level (log2 TPM)';


const la=mk('text',{x:45,y:33,'font-size':40,fill:'#111'});la.textContent='A';


const lb=mk('text',{x:42,y:299,'font-size':40,fill:'#111'});lb.textContent='B';


</script>
</body></html>
